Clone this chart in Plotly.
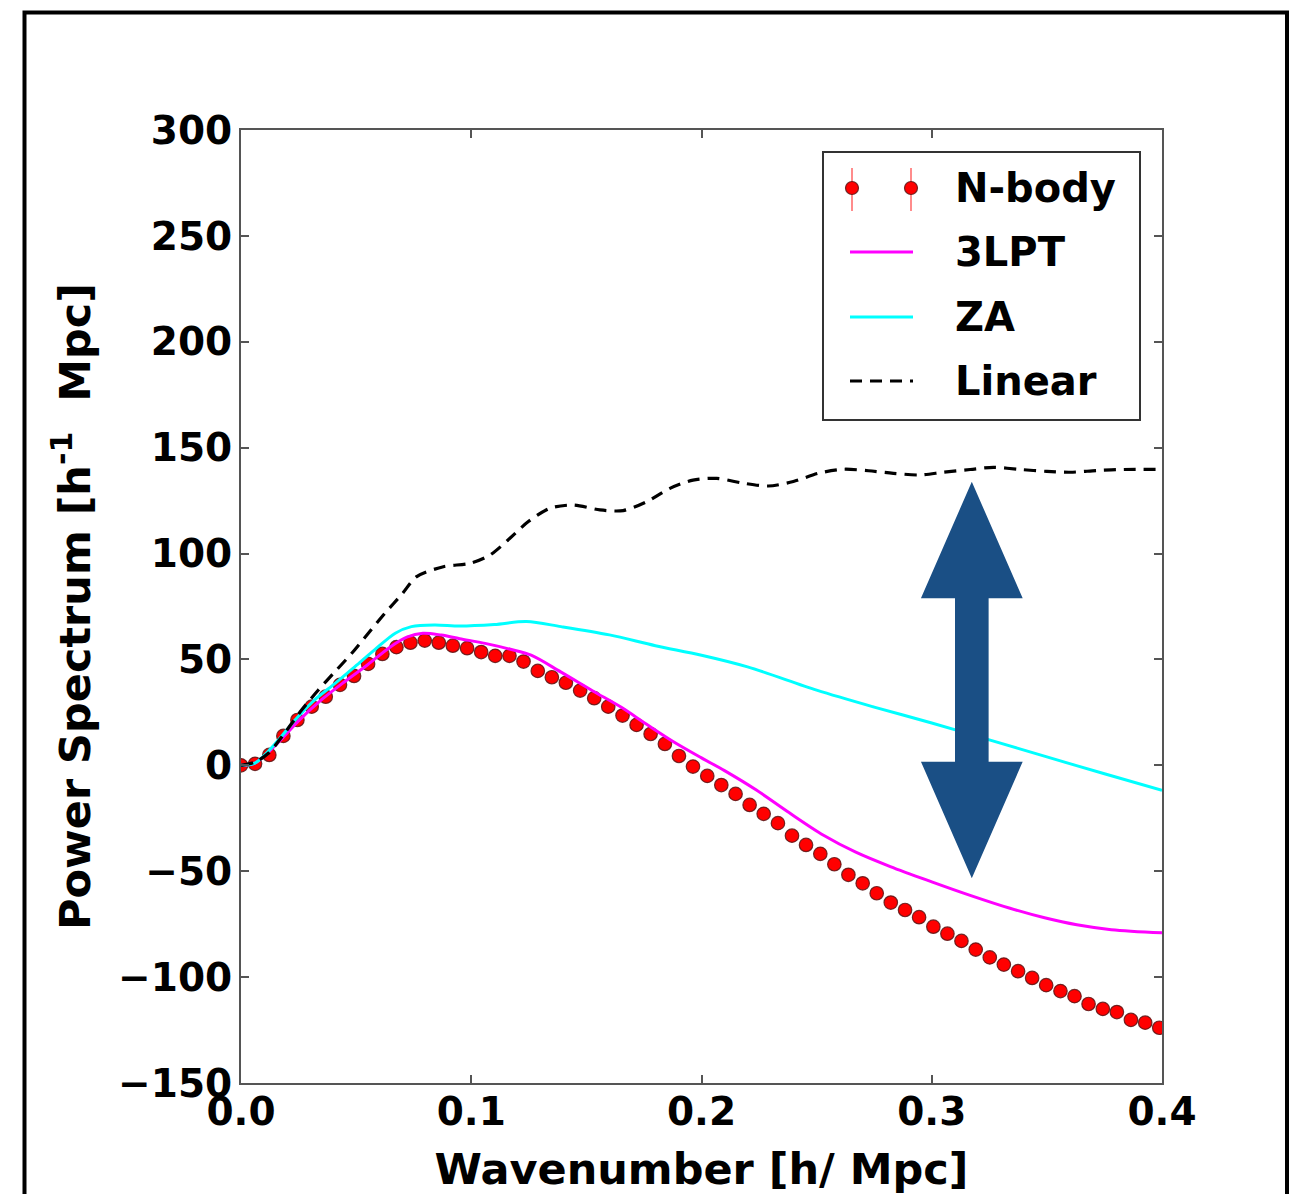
import plotly.graph_objects as go

# ---------------- data ----------------
k_nbody = [0.0000, 0.0061, 0.0123, 0.0184, 0.0245, 0.0307, 0.0368, 0.0430, 0.0491, 0.0552,
           0.0614, 0.0675, 0.0736, 0.0798, 0.0859, 0.0920, 0.0982, 0.1043, 0.1104, 0.1166,
           0.1227, 0.1289, 0.1350, 0.1411, 0.1473, 0.1534, 0.1595, 0.1657, 0.1718, 0.1779,
           0.1841, 0.1902, 0.1963, 0.2025, 0.2086, 0.2148, 0.2209, 0.2270, 0.2332, 0.2393,
           0.2454, 0.2516, 0.2577, 0.2638, 0.2700, 0.2761, 0.2822, 0.2884, 0.2945, 0.3007,
           0.3068, 0.3129, 0.3191, 0.3252, 0.3313, 0.3375, 0.3436, 0.3497, 0.3559, 0.3620,
           0.3681, 0.3743, 0.3804, 0.3865, 0.3927, 0.3988]
p_nbody = [0.0, 0.7, 4.9, 13.9, 21.4, 27.7, 32.4, 38.0, 42.2, 47.9,
           52.6, 55.8, 57.9, 58.9, 57.9, 56.5, 55.3, 53.5, 51.7, 51.7,
           49.0, 44.6, 41.6, 39.0, 35.3, 31.7, 27.7, 23.5, 19.1, 14.8,
           10.1, 4.4, -0.6, -5.0, -9.3, -13.5, -18.7, -22.9, -27.3, -33.2,
           -37.6, -41.8, -46.7, -51.7, -55.7, -60.4, -64.8, -68.3, -71.7, -76.2,
           -79.5, -82.9, -87.0, -90.7, -94.1, -97.2, -100.4, -103.8, -106.6, -109.0,
           -112.7, -115.0, -116.5, -120.2, -121.5, -123.9]

k_3lpt = [0.0, 0.006, 0.015, 0.025, 0.035, 0.045, 0.055, 0.065, 0.072, 0.079, 0.087, 0.095,
          0.106, 0.117, 0.126, 0.139, 0.153, 0.165, 0.176, 0.188, 0.200, 0.210, 0.224, 0.238,
          0.253, 0.267, 0.282, 0.300, 0.317, 0.334, 0.349, 0.363, 0.378, 0.400]
p_3lpt = [0.0, 1.0, 9.5, 21.0, 31.0, 39.5, 47.5, 56.0, 60.5, 62.4, 61.5, 59.8,
          57.6, 54.8, 52.0, 44.0, 35.0, 27.5, 19.5, 11.0, 3.5, -2.5, -11.8, -22.3,
          -33.0, -41.0, -47.8, -55.0, -61.5, -67.5, -72.0, -75.3, -77.6, -79.1]

k_za = [0.0, 0.006, 0.015, 0.0235, 0.032, 0.041, 0.0495, 0.058, 0.067, 0.074, 0.084, 0.095,
        0.110, 0.124, 0.139, 0.160, 0.180, 0.200, 0.220, 0.250, 0.275, 0.300, 0.325, 0.350,
        0.375, 0.400]
p_za = [0.0, 1.0, 10.4, 21.4, 30.9, 38.8, 46.6, 54.5, 62.4, 65.5, 66.3, 65.8,
        66.5, 67.9, 65.5, 61.6, 56.5, 52.0, 46.5, 35.5, 27.5, 20.0, 12.0, 4.0,
        -4.0, -11.8]

k_lin = [0.0, 0.006, 0.012, 0.019, 0.0264, 0.0336, 0.0408, 0.0481, 0.0553, 0.0625, 0.070,
         0.0763, 0.0879, 0.0995, 0.1081, 0.1168, 0.1248, 0.1342, 0.1443, 0.1559, 0.166,
         0.1762, 0.1863, 0.1963, 0.2066, 0.2182, 0.229, 0.2399, 0.2507, 0.2616, 0.2725,
         0.2833, 0.2949, 0.3051, 0.3167, 0.3268, 0.3384, 0.350, 0.3602, 0.3718, 0.3833, 0.400]
p_lin = [0.0, 1.5, 5.8, 15.3, 26.2, 35.6, 44.2, 52.9, 62.4, 71.8, 81.0,
         89.1, 93.8, 95.4, 99.3, 107.2, 115.1, 121.4, 122.9, 120.6, 120.3,
         124.5, 130.8, 134.7, 135.5, 133.2, 131.9, 134.0, 137.9, 139.8, 139.1,
         137.9, 137.1, 138.4, 139.7, 140.7, 139.7, 138.8, 138.4, 139.2, 139.7, 139.7]

x_ticks = [0.0, 0.1, 0.2, 0.3, 0.4]
x_ticklabels = ["0.0", "0.1", "0.2", "0.3", "0.4"]
y_ticks = [300, 250, 200, 150, 100, 50, 0, -50, -100, -150]
y_ticklabels = ["300", "250", "200", "150", "100", "50", "0", "\u221250", "\u2212100", "\u2212150"]

legend_names = ["N-body", "3LPT", "ZA", "Linear"]

# arrow (annotation) geometry in data units
arrow_k = 0.3174
arrow_top, arrow_head_top, arrow_head_bot, arrow_bot = 133.9, 78.9, 1.75, -53.3
arrow_head_hw, arrow_shaft_hw = 0.0221, 0.0073

# ---------------- layout geometry ----------------
W, H = 1291, 1194
L, R, T, B = 241, 1162, 130, 1083  # plot area in pixels


def px(x):
    return (x - L) / (R - L)


def py(y):
    return (B - y) / (B - T)


FONT = "DejaVu Sans"
RED = "#ff0000"
MAGENTA = "#ff00ff"
CYAN = "#00ffff"
ARROW = "#1a4f85"
MARKER_EDGE = "rgba(90,20,20,0.85)"

fig = go.Figure()

fig.add_trace(go.Scatter(
    x=k_nbody, y=p_nbody, mode="markers", name=legend_names[0],
    marker=dict(size=13.5, color=RED, line=dict(color=MARKER_EDGE, width=1.2)),
    showlegend=False,
))
fig.add_trace(go.Scatter(
    x=k_3lpt, y=p_3lpt, mode="lines", name=legend_names[1],
    line=dict(color=MAGENTA, width=3, shape="spline", smoothing=0.9), showlegend=False,
))
fig.add_trace(go.Scatter(
    x=k_za, y=p_za, mode="lines", name=legend_names[2],
    line=dict(color=CYAN, width=3, shape="spline", smoothing=0.9), showlegend=False,
))
fig.add_trace(go.Scatter(
    x=k_lin, y=p_lin, mode="lines", name=legend_names[3],
    line=dict(color="black", width=3.2, dash="12px,8px", shape="spline", smoothing=0.8),
    showlegend=False,
))

shapes = []
# double arrow
a = arrow_k
path = (f"M {a} {arrow_top} L {a + arrow_head_hw} {arrow_head_top} L {a + arrow_shaft_hw} {arrow_head_top} "
        f"L {a + arrow_shaft_hw} {arrow_head_bot} L {a + arrow_head_hw} {arrow_head_bot} L {a} {arrow_bot} "
        f"L {a - arrow_head_hw} {arrow_head_bot} L {a - arrow_shaft_hw} {arrow_head_bot} "
        f"L {a - arrow_shaft_hw} {arrow_head_top} L {a - arrow_head_hw} {arrow_head_top} Z")
shapes.append(dict(type="path", path=path, xref="x", yref="y", fillcolor=ARROW,
                   line=dict(width=0), layer="above"))

# outer black frame
shapes.append(dict(type="rect", xref="paper", yref="paper",
                   x0=px(24.5), x1=px(1287), y0=py(1210), y1=py(12.5),
                   line=dict(color="black", width=4), fillcolor="rgba(0,0,0,0)"))

# custom legend box
shapes.append(dict(type="rect", xref="paper", yref="paper",
                   x0=px(823), x1=px(1140), y0=py(420), y1=py(152),
                   line=dict(color="#333333", width=2), fillcolor="white", layer="above"))
ys = [188, 252, 317, 381]
# N-body: error bars + markers
for xm in (852, 911):
    shapes.append(dict(type="line", xref="paper", yref="paper",
                       x0=px(xm), x1=px(xm), y0=py(168), y1=py(211),
                       line=dict(color="#ff8c8c", width=2), layer="above"))
    shapes.append(dict(type="circle", xref="paper", yref="paper",
                       xsizemode="pixel", ysizemode="pixel",
                       xanchor=px(xm), yanchor=py(ys[0]),
                       x0=-6.5, x1=6.5, y0=-6.5, y1=6.5,
                       fillcolor=RED, line=dict(color=MARKER_EDGE, width=1.2),
                       layer="above"))
shapes.append(dict(type="line", xref="paper", yref="paper", x0=px(850), x1=px(913),
                   y0=py(ys[1]), y1=py(ys[1]), line=dict(color=MAGENTA, width=3), layer="above"))
shapes.append(dict(type="line", xref="paper", yref="paper", x0=px(850), x1=px(913),
                   y0=py(ys[2]), y1=py(ys[2]), line=dict(color=CYAN, width=3), layer="above"))
shapes.append(dict(type="line", xref="paper", yref="paper", x0=px(850), x1=px(913),
                   y0=py(ys[3]), y1=py(ys[3]), line=dict(color="black", width=3.2, dash="12px,8px"),
                   layer="above"))

annotations = []
for name, yy in zip(legend_names, ys):
    annotations.append(dict(
        text=name, xref="paper", yref="paper", x=px(953), y=py(yy),
        xanchor="left", yanchor="middle", showarrow=False,
        font=dict(family=FONT, size=40, color="black", weight="bold"),
    ))

axis_common = dict(
    showgrid=False, zeroline=False, showline=True, linecolor="#555555", linewidth=2,
    mirror="ticks", ticks="inside", ticklen=8, tickwidth=1.5, tickcolor="#555555",
    tickfont=dict(family=FONT, size=39, color="black", weight="bold"),
)

fig.update_layout(
    width=W, height=H,
    margin=dict(l=L, r=W - R, t=T, b=H - B, autoexpand=False),
    paper_bgcolor="white", plot_bgcolor="white",
    showlegend=False,
    shapes=shapes,
    annotations=annotations,
    xaxis=dict(
        range=[0, 0.4], tickvals=x_ticks, ticktext=x_ticklabels,
        title=dict(text="Wavenumber [h/ Mpc]", standoff=22,
                   font=dict(family=FONT, size=43, color="black", weight="bold")),
        ticklabelstandoff=-7,
        **axis_common,
    ),
    yaxis=dict(
        range=[-150, 300], tickvals=y_ticks, ticktext=y_ticklabels,
        title=dict(text="Power Spectrum [h<sup>-1</sup>  Mpc]", standoff=14,
                   font=dict(family=FONT, size=43, color="black", weight="bold")),
        ticklabelstandoff=-1,
        **axis_common,
    ),
)

fig.write_html("out.html")
